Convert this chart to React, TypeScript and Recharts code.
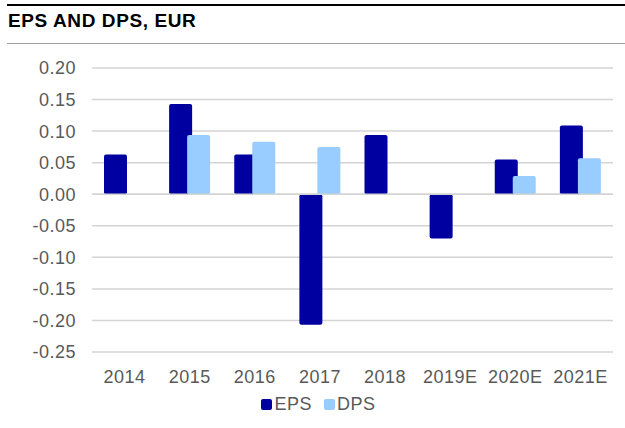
import React from "react";
import {
  BarChart,
  Bar,
  XAxis,
  YAxis,
  CartesianGrid,
  Legend,
  ReferenceLine,
} from "recharts";

const years = ["2014", "2015", "2016", "2017", "2018", "2019E", "2020E", "2021E"];
const eps = [0.063, 0.143, 0.063, -0.207, 0.094, -0.07, 0.055, 0.109];
const dps = [null, 0.094, 0.083, 0.075, null, null, 0.029, 0.057];
const yTicks = [-0.25, -0.2, -0.15, -0.1, -0.05, 0, 0.05, 0.1, 0.15, 0.2];

const data = years.map((year, i) => ({ year, EPS: eps[i], DPS: dps[i] }));

const font = "'Liberation Sans', Arial, sans-serif";
const textColor = "#595959";
const tickStyle = { fill: textColor, fontSize: 18, fontFamily: font, letterSpacing: 0.5 };

const LegendContent = () => (
  <div
    style={{
      display: "flex",
      justifyContent: "center",
      alignItems: "center",
      fontFamily: font,
      fontSize: 18,
      letterSpacing: 0.5,
      color: textColor,
      height: 20,
      lineHeight: "20px",
      paddingLeft: 24,
    }}
  >
    <span style={{ width: 11, height: 11, background: "#0000A0", borderRadius: 2, marginRight: 2 }} />
    <span style={{ marginRight: 12 }}>EPS</span>
    <span style={{ width: 11, height: 11, background: "#99CCFF", borderRadius: 2, marginRight: 2 }} />
    <span>DPS</span>
  </div>
);

const App = () => {
  return (
    <div
      style={{
        position: "absolute",
        left: 0,
        top: 0,
        width: 625,
        height: 428,
        background: "#fff",
        fontFamily: font,
      }}
    >
      <div style={{ position: "absolute", left: 7, right: 0, top: 4, height: 2, background: "#000" }} />
      <div
        style={{
          position: "absolute",
          left: 8,
          top: 10,
          fontSize: 19,
          letterSpacing: 0.6,
          fontWeight: "bold",
          color: "#000",
          lineHeight: "22px",
        }}
      >
        EPS AND DPS, EUR
      </div>
      <div style={{ position: "absolute", left: 7, right: 0, top: 43, height: 1, background: "#a0a0a0" }} />
      <div style={{ position: "absolute", left: 0, top: 0 }}>
        <BarChart
          width={625}
          height={428}
          data={data}
          margin={{ top: 68, right: 12, left: 0, bottom: 14 }}
          barSize={23}
          barGap={-5}
        >
          <CartesianGrid vertical={false} stroke="#d4d4d4" strokeWidth={1.5} />
          <XAxis
            dataKey="year"
            axisLine={false}
            tickLine={false}
            tickSize={0}
            tickMargin={18}
            height={42}
            interval={0}
            tick={tickStyle}
          />
          <YAxis
            domain={[-0.25, 0.2]}
            ticks={yTicks}
            width={92}
            axisLine={false}
            tickLine={false}
            tickSize={0}
            tickMargin={16}
            tickFormatter={(v: number) => v.toFixed(2)}
            tick={tickStyle}
          />
          <Legend verticalAlign="bottom" content={<LegendContent />} />
          <Bar dataKey="EPS" fill="#0000A0" radius={2} isAnimationActive={false} />
          <Bar dataKey="DPS" fill="#99CCFF" radius={2} isAnimationActive={false} />
          <ReferenceLine y={0} stroke="#d4d4d4" strokeWidth={1.5} />
        </BarChart>
      </div>
    </div>
  );
};

export default App;
